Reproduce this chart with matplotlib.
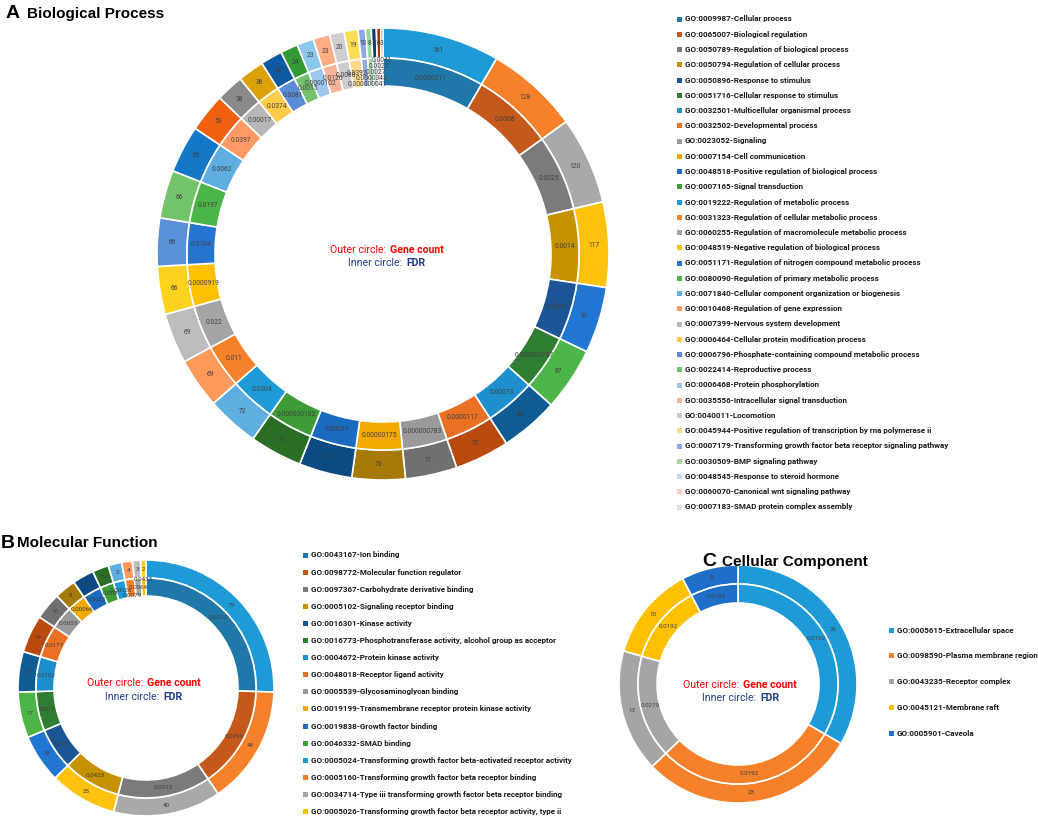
import numpy as np
import matplotlib
matplotlib.use('Agg')
import matplotlib.pyplot as plt
from matplotlib.patches import Rectangle
from matplotlib import font_manager

# Figure size in pixels (dpi 100)
W, H = 1038, 819

# Calibri-like narrow font if available
names = {f.name for f in font_manager.fontManager.ttflist}
NARROW = 'Liberation Sans Narrow' if 'Liberation Sans Narrow' in names else 'Roboto'
TITLE_FONT = 'Liberation Sans'

# ---- Data: Biological Process ----
bp_terms = [
    "GO:0009987-Cellular process",
    "GO:0065007-Biological regulation",
    "GO:0050789-Regulation of biological process",
    "GO:0050794-Regulation of cellular process",
    "GO:0050896-Response to stimulus",
    "GO:0051716-Cellular response to stimulus",
    "GO:0032501-Multicellular organismal process",
    "GO:0032502-Developmental process",
    "GO:0023052-Signaling",
    "GO:0007154-Cell communication",
    "GO:0048518-Positive regulation of biological process",
    "GO:0007165-Signal transduction",
    "GO:0019222-Regulation of metabolic process",
    "GO:0031323-Regulation of cellular metabolic process",
    "GO:0060255-Regulation of macromolecule metabolic process",
    "GO:0048519-Negative regulation of biological process",
    "GO:0051171-Regulation of nitrogen compound metabolic process",
    "GO:0080090-Regulation of primary metabolic process",
    "GO:0071840-Cellular component organization or biogenesis",
    "GO:0010468-Regulation of gene expression",
    "GO:0007399-Nervous system development",
    "GO:0006464-Cellular protein modification process",
    "GO:0006796-Phosphate-containing compound metabolic process",
    "GO:0022414-Reproductive process",
    "GO:0006468-Protein phosphorylation",
    "GO:0035556-Intracellular signal transduction",
    "GO:0040011-Locomotion",
    "GO:0045944-Positive regulation of transcription by rna polymerase ii",
    "GO:0007179-Transforming growth factor beta receptor signaling pathway",
    "GO:0030509-BMP signaling pathway",
    "GO:0048545-Response to steroid hormone",
    "GO:0060070-Canonical wnt signaling pathway",
    "GO:0007183-SMAD protein complex assembly",
]
bp_counts = [161, 128, 120, 117, 91, 87, 80, 75, 71, 73, 73, 72, 72, 69, 69, 66,
             66, 66, 65, 53, 38, 36, 30, 24, 23, 23, 20, 19, 10, 8, 7, 6, 3]
bp_fdr = ['0.0000211', '0.0008', '0.0025', '0.0014', '0.00041', '0.000000787',
          '0.00073', '0.0000117', '0.000000783', '0.00000175', '0.00039',
          '0.000000102', '0.0304', '0.011', '0.022', '0.0000919', '0.0104',
          '0.0197', '0.0062', '0.0397', '0.00017', '0.0374', '0.0081', '0.0015',
          '0.0000102', '0.0126', '0.0088', '0.0392', '0.000000041', '0.0000343',
          '0.0027', '0.0022', '0.0041']

# ---- Data: Molecular Function ----
mf_terms = [
    "GO:0043167-Ion binding",
    "GO:0098772-Molecular function regulator",
    "GO:0097367-Carbohydrate derivative binding",
    "GO:0005102-Signaling receptor binding",
    "GO:0016301-Kinase activity",
    "GO:0016773-Phosphotransferase activity, alcohol group as acceptor",
    "GO:0004672-Protein kinase activity",
    "GO:0048018-Receptor ligand activity",
    "GO:0005539-Glycosaminoglycan binding",
    "GO:0019199-Transmembrane receptor protein kinase activity",
    "GO:0019838-Growth factor binding",
    "GO:0046332-SMAD binding",
    "GO:0005024-Transforming growth factor beta-activated receptor activity",
    "GO:0005160-Transforming growth factor beta receptor binding",
    "GO:0034714-Type iii transforming growth factor beta receptor binding",
    "GO:0005026-Transforming growth factor beta receptor activity, type ii",
]
mf_counts = [75, 44, 40, 25, 18, 17, 15, 14, 10, 8, 8, 6, 5, 4, 3, 2]
mf_fdr = ['0.0217', '0.0299', '0.0033', '0.0423', '0.011', '0.011', '0.0162',
          '0.0177', '0.0053', '0.00066', '0.0053', '0.008', '0.00026', '0.0079',
          '0.0064', '0.0433']

# ---- Data: Cellular Component ----
cc_terms = [
    "GO:0005615-Extracellular space",
    "GO:0098590-Plasma membrane region",
    "GO:0043235-Receptor complex",
    "GO:0045121-Membrane raft",
    "GO:0005901-Caveola",
]
cc_counts = [26, 23, 13, 10, 6]
cc_fdr = ['0.0192', '0.0192', '0.0279', '0.0192', '0.0185']

# ---- Colours (Excel-like palette shades) ----
outer_colors = [
    '#1e9bd7', '#f7812b', '#a9a9a9', '#ffc20e', '#2176d2', '#4db548',
    '#0f5c94', '#b9490c', '#707070', '#a67a06', '#0b4a82', '#2a6e26',
    '#5eaee0', '#ff9a5a', '#bdbdbd', '#ffd21f', '#5a8fda', '#73c36b',
    '#1277c6', '#f06010', '#8a8a8a', '#daa10a', '#0d5aa3', '#349a34',
    '#8cc7ec', '#ffad84', '#cfcfcf', '#ffdd55', '#8ba9e0', '#9dd59a',
    '#0b3f70', '#a5380a', '#5a5a5a',
]
inner_colors = [
    '#1f77aa', '#c5591b', '#7b7b7b', '#c79200', '#1b5596', '#2e7d32',
    '#1d8fcc', '#ea7024', '#9a9a9a', '#f2a900', '#1a6ac0', '#3d9b38',
    '#1e9bd7', '#f7812b', '#a5a5a5', '#ffc000', '#2574d0', '#4cb548',
    '#5eaee2', '#ff9a66', '#b7b7b7', '#ffcd4a', '#5b8ad8', '#74c26e',
    '#9dc8ee', '#f9b39a', '#cccccc', '#ffd98a', '#8fa9e0', '#a5d6a0',
    '#c0dcf2', '#fbd0c6', '#e0e0e0',
]
cc_colors = ['#1e9bd7', '#f7812b', '#a5a5a5', '#ffc000', '#1f6fc8']

fig = plt.figure(figsize=(W / 100, H / 100), dpi=100)


def fx(x):
    return x / W


def fy(y):
    return 1 - y / H


def donut(cx, cy, radius, r_mid, r_hole, counts, fdr, ocols, icols, fs, thin_deg=3):
    ax = fig.add_axes([fx(cx - radius), fy(cy + radius), 2 * radius / W, 2 * radius / H])
    outer, _ = ax.pie(counts, radius=1, colors=ocols, startangle=90, counterclock=False,
                      wedgeprops=dict(width=1 - r_mid / radius, edgecolor='white', linewidth=1.2))
    inner, _ = ax.pie(counts, radius=r_mid / radius, colors=icols, startangle=90, counterclock=False,
                      wedgeprops=dict(width=(r_mid - r_hole) / radius, edgecolor='white', linewidth=1.2))
    ax.set_xlim(-1, 1)
    ax.set_ylim(-1, 1)
    r_out = (radius + r_mid) / 2 / radius
    r_in = (r_mid + r_hole) / 2 / radius
    ring_w = (r_mid - r_hole) / radius

    # outer labels (gene count)
    for w, lab in zip(outer, counts):
        a = np.deg2rad((w.theta1 + w.theta2) / 2)
        ax.text(r_out * np.cos(a), r_out * np.sin(a), str(lab), ha='center', va='center',
                fontsize=fs, color='#404040', family=NARROW)

    # inner labels (FDR); very thin slices are stacked along the radius
    thin = [i for i, w in enumerate(inner) if abs(w.theta2 - w.theta1) < thin_deg]
    radii = {}
    if len(thin) > 1:
        for k, i in enumerate(thin):
            radii[i] = r_in - 0.42 * ring_w + 0.84 * ring_w * k / (len(thin) - 1)
    for i, (w, lab) in enumerate(zip(inner, fdr)):
        a = np.deg2rad((w.theta1 + w.theta2) / 2)
        r = radii.get(i, r_in)
        ax.text(r * np.cos(a), r * np.sin(a), str(lab), ha='center', va='center',
                fontsize=fs, color='#404040', family=NARROW)
    return ax


def center_text(x1, y1, x2, y2):
    fig.text(fx(x1 - 2), fy(y1), 'Outer circle:', ha='right', va='center',
             color='#ff0000', fontsize=7.6, family=NARROW)
    fig.text(fx(x1 + 2), fy(y1), 'Gene count', ha='left', va='center',
             color='#ff0000', fontsize=7.6, weight='bold', family=NARROW)
    fig.text(fx(x2 - 2), fy(y2), 'Inner circle:', ha='right', va='center',
             color='#1f3c88', fontsize=7.6, family=NARROW)
    fig.text(fx(x2 + 2), fy(y2), 'FDR', ha='left', va='center',
             color='#1f3c88', fontsize=7.6, weight='bold', family=NARROW)


def legend(terms, colors, x_mark, x_text, y0, dy):
    for i, (t, c) in enumerate(zip(terms, colors)):
        y = y0 + i * dy
        fig.add_artist(Rectangle((fx(x_mark - 2.5), fy(y + 2.5)), 5 / W, 5 / H,
                                 transform=fig.transFigure, color=c, lw=0))
        fig.text(fx(x_text), fy(y), t, ha='left', va='center', fontsize=5.8,
                 weight='bold', color='#1a1a1a', family=NARROW)


# Panel A
donut(383, 254, 226, 196, 168, bp_counts, bp_fdr, outer_colors, inner_colors, 4.8)
center_text(388, 250, 404, 263)
legend(bp_terms, inner_colors, 679, 685, 19, 15.25)
fig.text(fx(6), fy(14), 'A', fontsize=14, weight='bold', va='center', family=TITLE_FONT)
fig.text(fx(27), fy(14), 'Biological Process', fontsize=11, weight='bold', va='center',
         family=TITLE_FONT)

# Panel B
donut(146, 688, 128, 110, 92, mf_counts, mf_fdr, outer_colors[:16], inner_colors[:16], 4.5,
      thin_deg=5.5)
center_text(145, 683, 161, 697)
legend(mf_terms, inner_colors[:16], 305, 311, 555, 17.1)
fig.text(fx(1), fy(543), 'B', fontsize=14, weight='bold', va='center', family=TITLE_FONT)
fig.text(fx(17), fy(543), 'Molecular Function', fontsize=11, weight='bold', va='center',
         family=TITLE_FONT)

# Panel C
donut(738, 684, 119, 100, 81, cc_counts, cc_fdr, cc_colors, cc_colors, 4.5)
center_text(741, 685, 758, 698)
legend(cc_terms, cc_colors, 891, 897, 630, 25.8)
fig.text(fx(702), fy(562), 'C', fontsize=14, weight='bold', va='center', family=TITLE_FONT)
fig.text(fx(722), fy(562), 'Cellular Component', fontsize=11, weight='bold', va='center',
         family=TITLE_FONT)

fig.savefig('out.png', dpi=100, facecolor='white')
